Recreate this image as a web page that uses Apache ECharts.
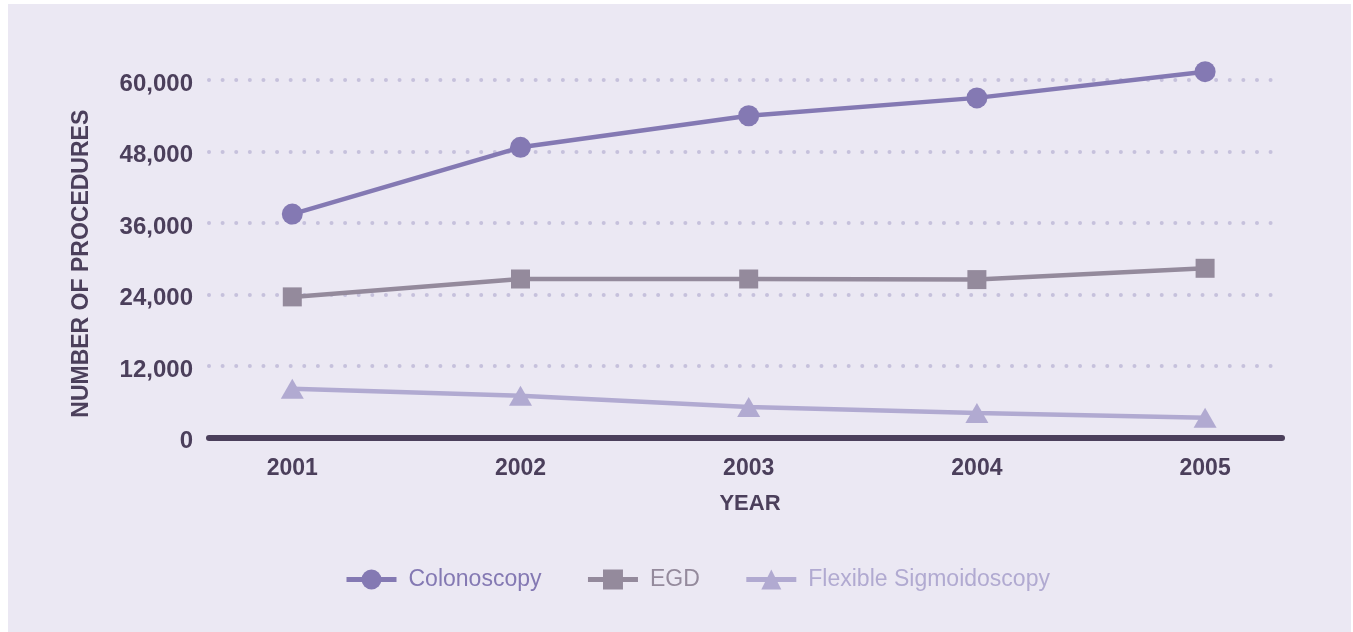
<!DOCTYPE html>
<html>
<head>
<meta charset="utf-8">
<title>Number of Procedures by Year</title>
<script src="https://cdn.jsdelivr.net/npm/echarts@6/dist/echarts.min.js"></script>
<style>
  html, body { margin: 0; padding: 0; background: #ffffff; }
  #panel { position: absolute; left: 8px; top: 4px; width: 1343px; height: 628px; background: #ebe8f3; }
  #chart { position: absolute; left: 0; top: 0; width: 1353px; height: 632px; }
</style>
</head>
<body>
<div id="panel"></div>
<div id="chart"></div>
<script>
// Procedure counts per year
const years = [2001, 2002, 2003, 2004, 2005];
const colonoscopy = [37500, 48700, 54000, 57000, 61400];
const egd = [23600, 26600, 26600, 26500, 28400];
const flexSig = [8200, 7000, 5100, 4100, 3300];
const yTicks = [0, 12000, 24000, 36000, 48000, 60000];

const seriesNames = ['Colonoscopy', 'EGD', 'Flexible Sigmoidoscopy'];
const seriesColors = ['#8479b3', '#948a9c', '#b1aad1'];
const seriesSymbols = ['circle', 'rect', 'triangle'];
const symbolSizes = [21, 19, [23, 20]];
const seriesValues = [colonoscopy, egd, flexSig];

const textDark = '#4b3f5b';
const boldFont = '"Liberation Sans", Arial, Helvetica, sans-serif';

const chart = echarts.init(document.getElementById('chart'), null, { renderer: 'canvas' });

const option = {
  backgroundColor: 'transparent',
  animation: false,
  grid: { left: 209, right: 71, top: 80, bottom: 194.5, containLabel: false },
  xAxis: {
    type: 'value',
    min: 2000.635,
    max: 2005.337,
    name: 'YEAR',
    nameLocation: 'middle',
    nameGap: 55,
    nameTextStyle: { color: textDark, fontWeight: 'bold', fontSize: 22, fontFamily: boldFont, padding: [0, 0, 0, 9] },
    axisLine: { show: true, onZero: false, lineStyle: { color: '#4b3f5b', width: 6 } },
    axisTick: { show: false },
    splitLine: { show: false },
    axisLabel: {
      customValues: years,
      margin: 20,
      color: textDark,
      fontWeight: 'bold',
      fontSize: 23,
      fontFamily: boldFont,
      formatter: v => String(Math.round(v))
    }
  },
  yAxis: {
    type: 'value',
    min: 0,
    max: 60000,
    interval: 12000,
    name: 'NUMBER OF PROCEDURES',
    nameLocation: 'middle',
    nameGap: 116,
    nameTextStyle: { color: textDark, fontWeight: 'bold', fontSize: 23, fontFamily: boldFont, padding: [0, 0, 0, -10] },
    axisLine: { show: false },
    axisTick: { show: false },
    axisLabel: {
      customValues: yTicks,
      margin: 16,
      formatter: v => '{t|' + v.toLocaleString('en-US') + '}',
      rich: {
        t: {
          color: textDark,
          fontWeight: 'bold',
          fontSize: 24,
          fontFamily: boldFont,
          padding: [8, 0, 0, 0]
        }
      }
    },
    splitLine: {
      show: true,
      lineStyle: { color: '#c6c1dc', width: 4, type: [0.01, 13.6], cap: 'round' }
    }
  },
  legend: {
    left: 339,
    top: 563,
    itemWidth: 50,
    itemHeight: 25,
    itemGap: 44,
    lineStyle: { width: 5 },
    textStyle: {
      fontFamily: '"Liberation Sans", Arial, sans-serif',
      fontSize: 23,
      padding: [0, 0, 0, 7]
    },
    data: seriesNames.map((n, i) => ({ name: n, textStyle: { color: seriesColors[i] } }))
  },
  series: seriesNames.map((name, i) => ({
    name: name,
    type: 'line',
    clip: false,
    data: years.map((y, j) => [y, seriesValues[i][j]]),
    symbol: seriesSymbols[i],
    symbolSize: symbolSizes[i],
    showAllSymbol: true,
    color: seriesColors[i],
    lineStyle: { color: seriesColors[i], width: 4.5 },
    itemStyle: { color: seriesColors[i] },
    z: 3 - i + 2
  }))
};

chart.setOption(option);
</script>
</body>
</html>
